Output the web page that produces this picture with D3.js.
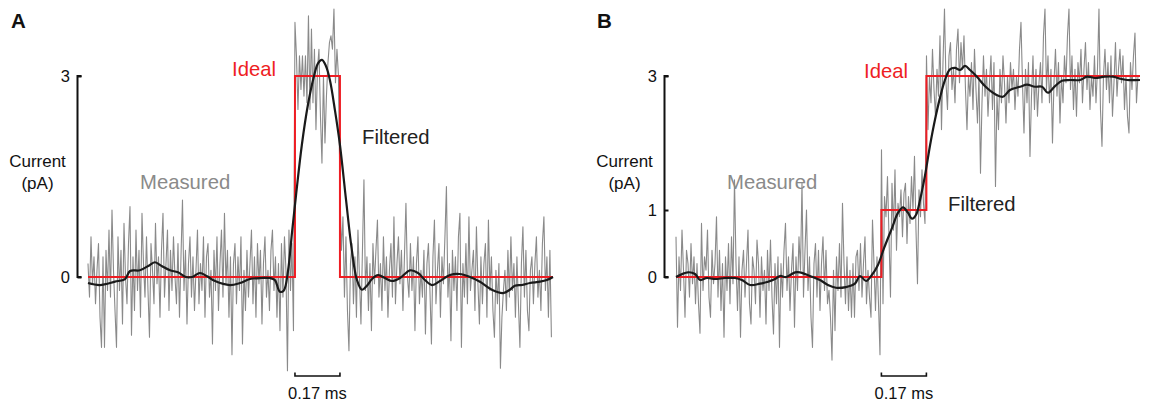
<!DOCTYPE html>
<html>
<head>
<meta charset="utf-8">
<script src="https://cdn.jsdelivr.net/npm/d3@7"></script>
<style>
  html, body { margin: 0; padding: 0; background: #ffffff; }
  svg { display: block; }
  text { font-family: "Liberation Sans", Arial, Helvetica, sans-serif; }
</style>
</head>
<body>
<svg id="chart" width="1149" height="404"></svg>
<script>
// ---------------- DATA ----------------
const sampleInterval = 0.17 / 30;   // ms per sample of the measured trace
const scaleBarMs = 0.17;
const yTicksA = [0, 3];
const yTicksB = [0, 1, 3];

// Panel A – ideal step (times in ms, levels in pA, step-after)
const idealTimesA  = [0, 0.782, 0.952, 1.757];
const idealLevelsA = [0, 3, 0, 0];
// Panel B
const idealTimesB  = [0, 0.776, 0.946, 1.753];
const idealLevelsB = [0, 1, 3, 3];

// Panel A – measured (pA)
const measuredA = [
  0.2,-0.3,0.6,-0.1,0.3,-0.4,0.1,0.5,-0.6,-1.05,
  0.3,-1.05,0.4,-0.2,0.7,-0.3,1.0,0.1,-0.5,-1.05,
  0.6,-0.2,0.4,-0.7,0.8,0.0,-0.4,0.5,1.05,-0.87,
  0.3,-0.5,0.7,-0.2,0.4,-0.6,0.95,0.2,-0.3,0.6,
  -0.2,-0.9,0.5,0.1,-0.4,0.8,-0.1,0.3,-0.6,0.4,
  0.95,-0.3,0.2,0.7,-0.5,0.4,-0.2,0.6,0.0,-0.4,
  0.5,-0.6,0.3,1.15,-0.2,0.4,-0.7,0.2,0.6,-0.3,
  0.3,-0.5,0.1,0.7,-0.4,0.2,-0.2,0.6,-0.6,0.3,
  0.5,-0.3,0.1,-1.0,0.4,-0.2,0.6,-0.5,0.2,0.7,
  -0.3,0.95,-0.1,0.4,-0.6,0.3,-1.16,0.2,0.5,-0.4,
  0.3,-0.2,0.6,-1.0,0.1,-0.5,0.4,-0.3,0.2,0.7,
  -0.4,0.3,-0.6,0.5,-0.1,0.4,-0.7,0.2,0.6,-0.3,
  0.1,-0.5,0.4,0.7,-0.2,0.3,-0.6,0.2,-0.8,0.5,
  -0.3,0.6,0.1,-1.4,0.7,-0.2,0.5,-0.8,
  // pulse
  3.8,3.3,2.5,3.3,2.8,3.3,2.7,3.3,2.6,3.9,
  2.5,3.7,2.6,3.4,2.2,3.1,3.4,2.4,1.7,3.0,
  2.0,2.7,3.2,3.5,3.6,3.4,4.0,2.9,3.4,3.0,
  // after pulse
  1.3,0.4,0.9,-0.3,0.6,-0.5,-1.1,0.2,0.5,-0.4,
  0.3,-0.6,0.7,0.0,-0.7,0.4,1.45,-0.2,0.3,-0.5,
  0.2,-0.8,0.5,-0.1,0.4,0.85,-0.3,0.2,-0.5,0.6,
  -0.2,0.3,-0.6,0.1,0.5,-0.3,0.9,-0.4,0.2,0.6,
  -0.1,0.4,-0.5,0.3,1.1,0.0,-0.3,0.5,-0.2,0.3,
  -0.8,0.2,0.6,-0.4,0.1,-0.3,0.4,-0.85,0.2,0.5,
  -0.2,-1.0,0.3,0.85,-0.4,0.1,0.5,-0.6,0.3,-0.1,
  0.6,1.35,-0.3,0.2,-0.95,0.4,-0.2,0.3,-0.5,0.6,
  0.95,-1.05,0.2,-0.3,0.5,-0.4,0.9,-0.2,0.1,0.4,
  -0.5,0.75,-0.1,-0.7,0.3,-0.4,0.2,0.5,-0.6,0.85,
  -0.2,0.3,-0.5,-0.9,0.1,-0.4,0.2,-1.36,-0.6,-0.2,
  0.1,-0.5,0.4,-0.3,0.6,-0.2,0.2,-0.6,0.3,-0.4,
  -1.05,0.2,0.75,-0.3,0.4,-0.5,-0.8,0.1,0.3,-0.4,
  0.2,0.6,-0.3,0.1,-0.5,0.5,0.9,-0.2,0.3,-0.6,
  0.4,-0.9
];

// Panel B – measured (pA)
const measuredB = [
  0.6,-0.75,0.3,-0.2,0.7,0.1,-0.6,0.4,0.2,-0.3,
  0.5,-0.1,0.3,-0.4,0.2,-0.4,-0.84,0.8,-0.2,0.3,
  0.1,0.7,-0.3,-0.6,0.4,-0.1,0.2,0.9,-0.3,0.4,
  -0.5,0.2,-0.9,0.3,-0.2,0.5,-0.4,0.6,-0.1,1.45,
  0.2,-0.5,0.3,-0.9,0.1,0.4,-0.3,0.2,0.7,-0.4,
  -0.7,0.3,0.1,-0.4,0.55,0.2,-0.6,0.3,-0.2,0.1,
  -0.7,0.4,-0.2,0.55,-0.3,-0.85,0.2,-0.4,0.3,-1.05,
  0.2,-0.3,0.4,0.8,-0.2,0.3,-0.5,0.1,0.5,-0.75,
  0.3,-0.2,0.6,0.1,1.4,-0.3,0.4,1.0,-0.2,0.3,
  -0.6,-1.05,0.2,0.5,-0.3,0.4,-0.5,0.2,0.6,-0.2,
  0.4,-0.4,-0.2,-0.6,-1.24,0.1,-0.8,0.3,-0.2,0.5,
  -0.3,1.1,0.2,-0.4,0.3,-0.5,0.1,-0.6,0.2,-0.6,
  0.3,0.4,-0.2,0.5,-0.3,0.2,0.6,-0.4,0.1,-0.3,
  -0.6,0.85,0.2,-0.5,0.3,-0.4,-1.16,
  // 1 pA level
  1.9,-0.4,1.2,0.9,1.5,0.6,-0.3,1.4,0.7,1.6,
  0.4,1.1,0.9,1.3,0.6,1.25,1.4,0.5,1.2,0.8,
  1.5,1.0,1.8,0.7,-0.1,1.3,0.9,1.6,1.1,0.8,
  // 3 pA level
  3.3,2.2,3.0,2.6,3.4,2.8,2.4,3.1,2.7,3.6,
  2.2,3.2,4.0,2.9,2.5,3.3,3.5,2.8,3.1,2.6,
  3.4,3.7,2.9,3.5,3.1,3.6,2.8,2.2,3.0,2.7,
  3.2,2.5,3.4,2.8,2.3,3.0,1.55,2.6,3.3,2.7,
  3.1,2.4,2.9,3.3,2.5,3.2,1.35,2.7,2.2,3.1,
  2.6,3.3,2.9,2.3,3.0,2.6,3.2,2.8,3.1,2.5,
  3.0,2.7,3.4,3.8,2.9,2.15,3.1,2.6,3.2,1.8,
  2.7,3.3,2.5,3.1,2.4,2.9,3.2,2.6,3.6,4.0,
  2.8,3.3,2.6,3.1,2.0,2.9,3.4,2.7,3.2,2.3,
  3.0,2.6,3.3,2.9,3.6,4.0,2.8,3.3,2.5,3.1,
  2.4,3.2,2.9,3.4,2.6,3.1,3.5,2.8,3.2,2.5,
  3.0,2.7,3.3,2.6,3.1,4.0,2.5,1.95,3.0,3.4,
  2.8,3.2,2.6,3.3,2.4,2.9,3.5,2.7,3.1,3.4,
  2.9,3.3,2.5,3.0,2.4,2.15,3.2,2.8,3.3,3.64,
  2.6,3.0
];

// Filtered traces: times (ms) and values (pA)
const filteredTimesA = [0,0.045,0.102,0.14,0.159,0.196,0.234,0.253,0.28,0.31,0.34,0.37,0.393,0.423,0.45,0.48,0.536,0.574,0.612,0.657,0.688,0.706,0.725,0.74,0.756,0.771,0.786,0.808,0.831,0.854,0.869,0.884,0.899,0.914,0.933,0.952,0.975,0.997,1.016,1.035,1.054,1.073,1.096,1.122,1.149,1.179,1.217,1.247,1.273,1.3,1.33,1.368,1.405,1.443,1.481,1.526,1.568,1.594,1.613,1.64,1.67,1.708,1.734,1.757];
const filteredValuesA = [-0.09,-0.12,-0.07,-0.03,0.09,0.1,0.18,0.22,0.16,0.1,0.07,0.0,0.0,0.06,0.01,-0.06,-0.12,-0.09,-0.03,-0.015,-0.015,-0.045,-0.22,-0.2,0.1,0.67,1.22,1.97,2.57,3.0,3.19,3.24,3.15,2.94,2.49,1.97,1.15,0.4,-0.04,-0.19,-0.13,-0.03,0.03,-0.015,-0.06,-0.015,0.1,0.06,-0.045,-0.12,-0.06,0.03,0.045,0.0,-0.07,-0.19,-0.24,-0.19,-0.13,-0.12,-0.09,-0.07,-0.045,0.0];

const filteredTimesB = [0,0.045,0.072,0.091,0.117,0.147,0.185,0.223,0.249,0.28,0.317,0.348,0.374,0.393,0.416,0.45,0.468,0.506,0.544,0.574,0.604,0.642,0.676,0.695,0.718,0.74,0.763,0.786,0.816,0.839,0.858,0.876,0.892,0.907,0.922,0.941,0.96,0.978,0.997,1.016,1.035,1.054,1.073,1.092,1.111,1.137,1.167,1.205,1.235,1.262,1.3,1.326,1.356,1.383,1.405,1.432,1.458,1.488,1.526,1.553,1.583,1.62,1.651,1.677,1.704,1.753];
const filteredValuesB = [0,0.07,0.045,-0.045,-0.015,-0.03,-0.015,-0.015,-0.045,-0.12,-0.1,-0.07,-0.03,0.015,0.0,0.07,0.07,0.015,-0.045,-0.12,-0.16,-0.15,-0.1,0.015,-0.06,0.03,0.18,0.43,0.73,0.96,1.04,0.96,0.87,0.93,1.15,1.52,1.97,2.34,2.67,2.94,3.1,3.12,3.09,3.15,3.09,2.99,2.85,2.73,2.69,2.79,2.84,2.87,2.84,2.84,2.75,2.85,2.93,2.94,2.94,2.99,2.97,2.99,2.99,2.96,2.94,2.94];

// ---------------- DRAW ----------------
const svg = d3.select("#chart");
svg.append("rect").attr("width", 1149).attr("height", 404).attr("fill", "#fff");

const COL_MEAS = "#8a8a8a", COL_IDEAL = "#ee1d23", COL_FILT = "#1a1a1a";

function panel(cfg) {
  const g = svg.append("g");
  const x = d3.scaleLinear().domain(cfg.xDomain).range(cfg.xRange);
  const y = d3.scaleLinear().domain([0, 3]).range([277, 76]);

  // panel letter
  g.append("text").attr("x", cfg.letterX).attr("y", 27.5)
    .attr("font-size", 20.5).attr("font-weight", "bold").attr("fill", "#111")
    .text(cfg.letter);

  // y axis
  const axis = d3.axisRight(y).tickValues(cfg.ticks).tickSize(4).tickFormat("");
  const ag = g.append("g").attr("transform", `translate(${cfg.axisX},0)`).call(axis);
  ag.select(".domain").attr("d", `M4,${y(3)}H0V${y(0)}H4`).attr("stroke", "#111").attr("stroke-width", 2).attr("fill", "none");
  ag.selectAll(".tick line").attr("stroke", "#111").attr("stroke-width", 2);
  cfg.ticks.forEach(t => {
    g.append("text").attr("x", cfg.axisX - 7.5).attr("y", y(t) + 6)
      .attr("text-anchor", "end").attr("font-size", 16.5).attr("fill", "#111").text(t);
  });
  g.append("text").attr("x", cfg.axisX - 40).attr("y", 167).attr("text-anchor", "middle")
    .attr("font-size", 17).attr("fill", "#111").text("Current");
  g.append("text").attr("x", cfg.axisX - 40).attr("y", 188.5).attr("text-anchor", "middle")
    .attr("font-size", 17).attr("fill", "#111").text("(pA)");

  // measured
  const lineM = d3.line().x((d, i) => x(i * sampleInterval)).y(d => y(d));
  g.append("path").datum(cfg.measured).attr("d", lineM)
    .attr("fill", "none").attr("stroke", COL_MEAS).attr("stroke-width", 1.1).attr("stroke-linejoin", "round");

  // ideal
  const idealPts = cfg.idealTimes.map((t, i) => [t, cfg.idealLevels[i]]);
  const lineI = d3.line().x(d => x(d[0])).y(d => y(d[1])).curve(d3.curveStepAfter);
  g.append("path").datum(idealPts).attr("d", lineI)
    .attr("fill", "none").attr("stroke", COL_IDEAL).attr("stroke-width", 2);

  // filtered
  const filtPts = cfg.filtTimes.map((t, i) => [t, cfg.filtValues[i]]);
  const lineF = d3.line().x(d => x(d[0])).y(d => y(d[1])).curve(d3.curveCatmullRom.alpha(0.5));
  g.append("path").datum(filtPts).attr("d", lineF)
    .attr("fill", "none").attr("stroke", COL_FILT).attr("stroke-width", 2.2);

  // scale bar
  const sb0 = x(cfg.scaleStart), sb1 = x(cfg.scaleStart + scaleBarMs);
  g.append("path").attr("d", `M${sb0},372.5V376H${sb1}V372.5`)
    .attr("fill", "none").attr("stroke", "#111").attr("stroke-width", 1.6);
  g.append("text").attr("x", (sb0 + sb1) / 2).attr("y", 398.5).attr("text-anchor", "middle")
    .attr("font-size", 16.5).attr("fill", "#111").text("0.17 ms");

  // labels
  g.append("text").attr("x", cfg.measX).attr("y", 189).attr("font-size", 20.3).attr("fill", COL_MEAS).text("Measured");
  g.append("text").attr("x", cfg.idealX).attr("y", cfg.idealY).attr("font-size", 20.3).attr("fill", COL_IDEAL).text("Ideal");
  g.append("text").attr("x", cfg.filtX).attr("y", cfg.filtY).attr("font-size", 20.3).attr("fill", "#222").text("Filtered");
}

panel({
  letter: "A", letterX: 11, axisX: 77.5, ticks: yTicksA,
  xDomain: [0, 1.757], xRange: [88, 553],
  measured: measuredA, idealTimes: idealTimesA, idealLevels: idealLevelsA,
  filtTimes: filteredTimesA, filtValues: filteredValuesA,
  scaleStart: idealTimesA[1],
  measX: 140, idealX: 232, idealY: 76, filtX: 362, filtY: 144
});
panel({
  letter: "B", letterX: 597, axisX: 664.5, ticks: yTicksB,
  xDomain: [0, 1.753], xRange: [676, 1140],
  measured: measuredB, idealTimes: idealTimesB, idealLevels: idealLevelsB,
  filtTimes: filteredTimesB, filtValues: filteredValuesB,
  scaleStart: idealTimesB[1],
  measX: 727, idealX: 864, idealY: 78, filtX: 948, filtY: 211
});
</script>
</body>
</html>
